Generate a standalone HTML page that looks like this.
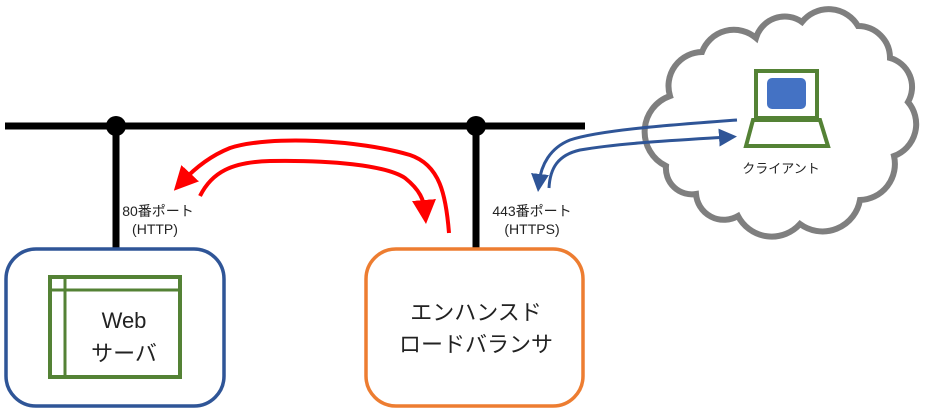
<!DOCTYPE html>
<html><head><meta charset="utf-8"><style>
html,body{margin:0;padding:0;background:#fff;width:934px;height:412px;overflow:hidden}
text{font-family:"Liberation Sans","Noto Sans CJK JP",sans-serif;fill:#222}
</style></head><body>
<svg width="934" height="412" viewBox="0 0 934 412" xmlns="http://www.w3.org/2000/svg">
<defs>
<marker id="ar" markerWidth="6" markerHeight="6" refX="3" refY="3" orient="auto" markerUnits="strokeWidth"><path d="M0,0 L6,3 L0,6 z" fill="#ff0000"/></marker>
<marker id="ab" markerWidth="6" markerHeight="6" refX="3" refY="3" orient="auto" markerUnits="strokeWidth"><path d="M0,0 L6,3 L0,6 z" fill="#2f5597"/></marker>
</defs>
<!-- cloud -->
<path d="M670,96 A34,34 0 0 1 702,52 A34,34 0 0 1 756,38 A30,30 0 0 1 802,22 A34,34 0 0 1 858,26 A32,32 0 0 1 890,58 A30,30 0 0 1 908,102 A34,34 0 0 1 894,156 A36,36 0 0 1 860,200 A38,38 0 0 1 800,224 A38,38 0 0 1 738,216 A28,28 0 0 1 696,194 A26,26 0 0 1 666,166 A38,38 0 0 1 670,96 Z" fill="#fff" stroke="#7f7f7f" stroke-width="6"/>
<!-- bus -->
<line x1="5" y1="126" x2="585" y2="126" stroke="#000" stroke-width="7"/>
<line x1="116" y1="126" x2="116" y2="248" stroke="#000" stroke-width="7"/>
<line x1="476" y1="126" x2="476" y2="248" stroke="#000" stroke-width="7"/>
<circle cx="116" cy="126" r="10" fill="#000"/>
<circle cx="476" cy="126" r="10" fill="#000"/>
<!-- boxes -->
<rect x="6" y="249" width="218" height="157" rx="30" fill="#fff" stroke="#2f5597" stroke-width="3.5"/>
<rect x="50" y="277" width="130" height="100" fill="none" stroke="#548235" stroke-width="4"/>
<line x1="50" y1="290" x2="180" y2="290" stroke="#548235" stroke-width="3"/>
<line x1="65" y1="277" x2="65" y2="377" stroke="#548235" stroke-width="3"/>
<text x="124" y="328" font-size="22" text-anchor="middle">Web</text>
<text x="124" y="361" font-size="22" text-anchor="middle">サーバ</text>
<rect x="366" y="249" width="217" height="157" rx="30" fill="#fff" stroke="#ed7d31" stroke-width="3.5"/>
<text x="476" y="320" font-size="22" text-anchor="middle">エンハンスド</text>
<text x="476" y="352" font-size="22" text-anchor="middle">ロードバランサ</text>
<!-- labels -->
<text x="158" y="216" font-size="14" text-anchor="middle">80番ポート</text>
<text x="155" y="234" font-size="14" text-anchor="middle">(HTTP)</text>
<text x="532" y="216" font-size="14" text-anchor="middle">443番ポート</text>
<text x="532" y="234" font-size="14" text-anchor="middle">(HTTPS)</text>
<!-- red arrows -->
<path d="M449,233 C446,195 440,165 410,155 C360,140 270,135 230,148 C210,156 195,168 182,182" fill="none" stroke="#ff0000" stroke-width="4" marker-end="url(#ar)"/>
<path d="M200,196 C212,172 232,162 270,161 C330,160 385,165 405,178 C420,190 424,200 425,212" fill="none" stroke="#ff0000" stroke-width="4" marker-end="url(#ar)"/>
<!-- blue arrows -->
<path d="M737,120 C670,125 600,130 570,140 C550,148 541,165 539,183" fill="none" stroke="#2f5597" stroke-width="3" marker-end="url(#ab)"/>
<path d="M549,188 C550,168 558,155 580,150 C620,143 680,140 728,137" fill="none" stroke="#2f5597" stroke-width="3" marker-end="url(#ab)"/>
<!-- laptop -->
<rect x="756" y="71" width="61" height="47" fill="#fff" stroke="#548235" stroke-width="4"/>
<rect x="767" y="78" width="39" height="31" rx="5" fill="#4472c4"/>
<path d="M753,120 L820,120 L828,146 L746,146 Z" fill="#fff" stroke="#548235" stroke-width="4"/>
<text x="781" y="173" font-size="13" text-anchor="middle">クライアント</text>
</svg>
</body></html>
